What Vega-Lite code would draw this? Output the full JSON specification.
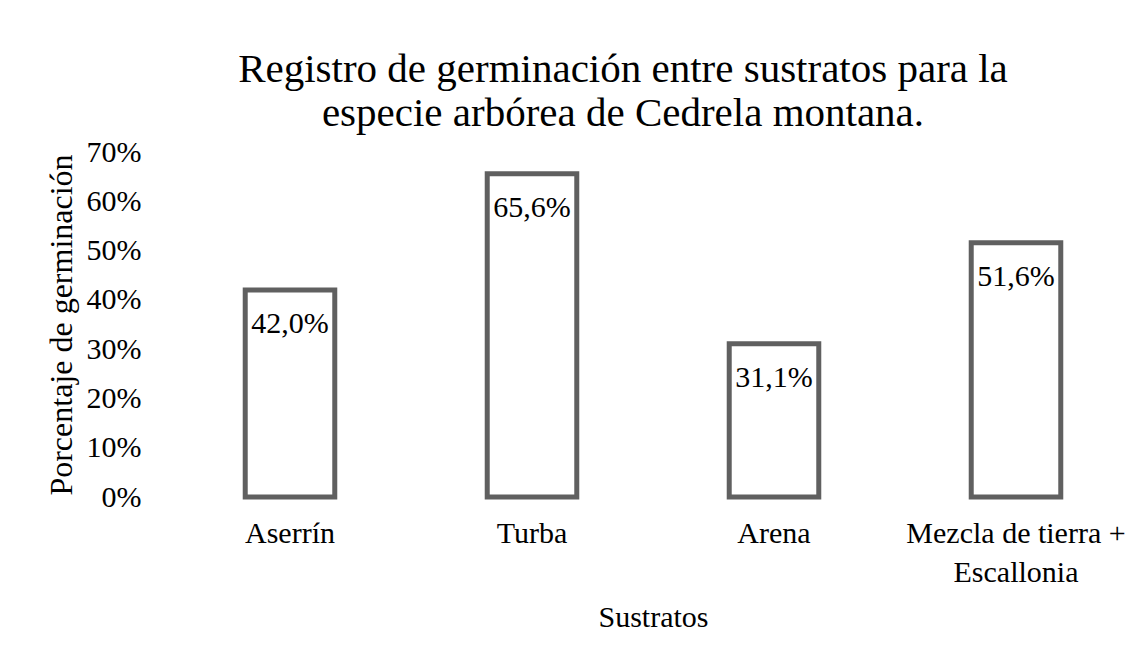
{
  "$schema": "https://vega.github.io/schema/vega-lite/v6.json",
  "autosize": "none",
  "width": 968,
  "height": 345,
  "padding": {"left": 169, "top": 152, "right": 9, "bottom": 165},
  "background": "white",
  "config": {
    "locale": {"number": {"decimal": ",", "thousands": ".", "grouping": [3], "currency": ["", " €"]}},
    "view": {"stroke": null},
    "font": "Liberation Serif",
    "axis": {"domain": false, "ticks": false, "grid": false, "labelFont": "Liberation Serif", "titleFont": "Liberation Serif", "labelColor": "#000000", "titleColor": "#000000", "labelFontSize": 30, "titleFontSize": 30, "titleFontWeight": "normal", "labelLimit": 0}
  },
  "title": {
    "text": ["Registro de germinación entre sustratos para la", "especie arbórea de Cedrela montana."],
    "font": "Liberation Serif",
    "fontSize": 41,
    "fontWeight": "normal",
    "color": "#000000",
    "lineHeight": 44,
    "anchor": "middle",
    "dx": -30,
    "offset": 2
  },
  "data": {
    "values": [
      {"sustrato": "Aserrín", "porcentaje": 0.42},
      {"sustrato": "Turba", "porcentaje": 0.656},
      {"sustrato": "Arena", "porcentaje": 0.311},
      {"sustrato": "Mezcla de tierra + Escallonia", "porcentaje": 0.516}
    ]
  },
  "encoding": {
    "x": {
      "field": "sustrato", "type": "nominal", "sort": null,
      "scale": {"paddingInner": 0.63, "paddingOuter": 0.315},
      "axis": {
        "title": "Sustratos", "labelAngle": 0, "labelPadding": 21, "titlePadding": 15,
        "labelLineHeight": 39,
        "labelExpr": "datum.value == 'Mezcla de tierra + Escallonia' ? ['Mezcla de tierra +', 'Escallonia'] : datum.value"
      }
    },
    "y": {
      "field": "porcentaje", "type": "quantitative",
      "scale": {"domain": [0, 0.7]},
      "axis": {"title": "Porcentaje de germinación", "titleFontSize": 32, "format": ".0%", "values": [0, 0.1, 0.2, 0.3, 0.4, 0.5, 0.6, 0.7], "labelPadding": 28, "titlePadding": 8}
    }
  },
  "layer": [
    {"mark": {"type": "bar", "fill": "white", "stroke": "#606060", "strokeWidth": 5}},
    {"mark": {"type": "text", "baseline": "top", "dy": 19, "fontSize": 30, "color": "#000000", "font": "Liberation Serif"},
     "encoding": {"text": {"field": "porcentaje", "type": "quantitative", "format": ".1%"}}}
  ]
}
